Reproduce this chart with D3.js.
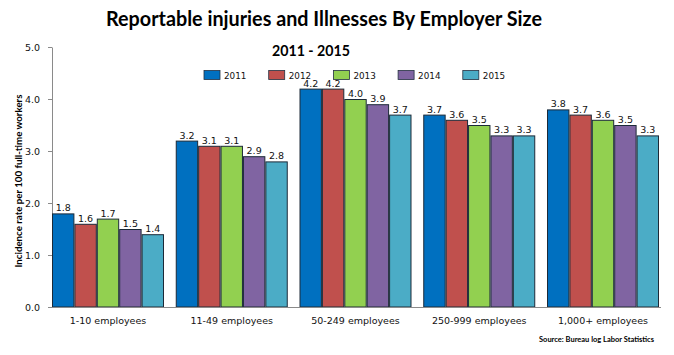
<!DOCTYPE html>
<html><head><meta charset="utf-8">
<script src="https://cdn.jsdelivr.net/npm/d3@7"></script>
<style>body{margin:0;background:#fff}svg{display:block}</style>
</head><body><svg id="c" width="674" height="355"></svg>
<script>
const categories = ["1-10 employees","11-49 employees","50-249 employees","250-999 employees","1,000+ employees"];
const years = ["2011","2012","2013","2014","2015"];
const v2011 = [1.8,3.2,4.2,3.7,3.8];
const v2012 = [1.6,3.1,4.2,3.6,3.7];
const v2013 = [1.7,3.1,4.0,3.5,3.6];
const v2014 = [1.5,2.9,3.9,3.3,3.5];
const v2015 = [1.4,2.8,3.7,3.3,3.3];
const yTicks = [0,1,2,3,4,5];
const colors = ["#0070C0","#C0504D","#92D050","#8064A2","#4BACC6"];
const seriesVals = [v2011,v2012,v2013,v2014,v2015];

const svg = d3.select("#c");
const x0 = d3.scaleBand().domain(categories).range([52,659]).paddingInner(0.095).paddingOuter(0);
const x1 = d3.scaleBand().domain(years).range([0,x0.bandwidth()]).padding(0);
const y = d3.scaleLinear().domain([0,5]).range([307,47]);

// title
svg.append("text").attr("x",324).attr("y",26).attr("text-anchor","middle")
  .attr("font-family","Lato, 'Open Sans', sans-serif").attr("font-weight","bold").attr("font-size",20)
  .attr("textLength",436).attr("lengthAdjust","spacingAndGlyphs")
  .text("Reportable injuries and Illnesses By Employer Size");
svg.append("text").attr("x",311).attr("y",56).attr("text-anchor","middle")
  .attr("font-family","Lato, 'Open Sans', sans-serif").attr("font-weight","bold").attr("font-size",15)
  .attr("textLength",78).attr("lengthAdjust","spacingAndGlyphs")
  .text("2011 - 2015");

// legend
const lg = svg.append("g");
years.forEach((yr,i)=>{
  const lx = 204 + i*64.7;
  lg.append("rect").attr("x",lx).attr("y",70.5).attr("width",16).attr("height",9)
    .attr("fill",colors[i]).attr("stroke","#243040").attr("stroke-width",0.8);
  lg.append("text").attr("x",lx+20).attr("y",78.5).attr("font-family","'DejaVu Sans', Verdana, sans-serif")
    .attr("font-size",8.8).attr("fill","#111").text(yr);
});

// y axis
const yAxis = d3.axisLeft(y).tickValues(yTicks).tickFormat(d3.format(".1f")).tickSize(4).tickSizeOuter(0);
const yg = svg.append("g").attr("transform","translate(52,0)").call(yAxis);
yg.select(".domain").attr("stroke","#8a8a8a");
yg.selectAll(".tick line").attr("stroke","#8a8a8a");
yg.selectAll(".tick text").attr("font-family","'DejaVu Sans', Verdana, sans-serif").attr("font-size",9.5)
  .attr("fill","#111").attr("x",-12);

svg.append("text").attr("transform","translate(22,181) rotate(-90)").attr("text-anchor","middle")
  .attr("font-family","Lato, 'Open Sans', sans-serif").attr("font-weight","bold").attr("font-size",10)
  .attr("textLength",173).attr("lengthAdjust","spacingAndGlyphs")
  .text("Incidence rate per 100 full-time workers");

// bars
const groups = svg.append("g").selectAll("g").data(categories).join("g")
  .attr("transform",d=>`translate(${x0(d)},0)`);
groups.each(function(cat,ci){
  const g = d3.select(this);
  years.forEach((yr,si)=>{
    const val = seriesVals[si][ci];
    g.append("rect").attr("x",x1(yr)+0.5).attr("y",y(val)+0.5)
      .attr("width",x1.bandwidth()-1).attr("height",y(0)-y(val)-0.5)
      .attr("fill",colors[si]).attr("stroke","#1c2a38").attr("stroke-width",1);
    g.append("text").attr("x",x1(yr)+x1.bandwidth()/2).attr("y",y(val)-2).attr("text-anchor","middle")
      .attr("font-family","'DejaVu Sans', Verdana, sans-serif").attr("font-size",9.5).attr("fill","#111")
      .text(d3.format(".1f")(val));
  });
});

// x axis
const xAxis = d3.axisBottom(x0).tickSize(0).tickSizeOuter(0);
const xg = svg.append("g").attr("transform","translate(0,307)").call(xAxis);
xg.select(".domain").attr("stroke","#8a8a8a").attr("d","M52,0.5H661");
xg.selectAll(".tick text").attr("font-family","'DejaVu Sans', Verdana, sans-serif").attr("font-size",9.5)
  .attr("fill","#111").attr("dy","0").attr("y",17);

svg.append("text").attr("x",654).attr("y",342).attr("text-anchor","end")
  .attr("font-family","Lato, 'Open Sans', sans-serif").attr("font-weight","bold").attr("font-size",8)
  .attr("textLength",115).attr("lengthAdjust","spacingAndGlyphs")
  .text("Source: Bureau log Labor Statistics");
</script></body></html>
